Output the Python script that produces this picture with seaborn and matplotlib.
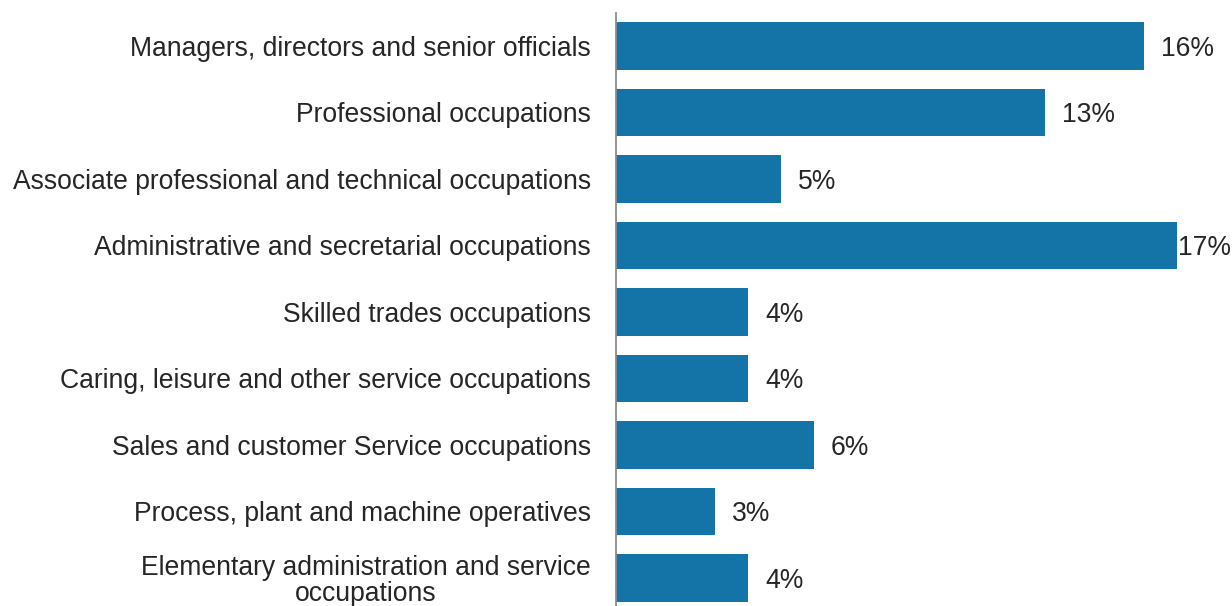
import matplotlib
matplotlib.use("Agg")
import matplotlib.pyplot as plt
import seaborn as sns
import pandas as pd

categories = [
    "Managers, directors and senior officials",
    "Professional occupations",
    "Associate professional and technical occupations",
    "Administrative and secretarial occupations",
    "Skilled trades occupations",
    "Caring, leisure and other service occupations",
    "Sales and customer Service occupations",
    "Process, plant and machine operatives",
    "Elementary administration and service\noccupations",
]
values = [16, 13, 5, 17, 4, 4, 6, 3, 4]

df = pd.DataFrame({"occupation": categories, "share": values})

sns.set_theme(style="white")
plt.rcParams["font.family"] = ["Liberation Sans", "DejaVu Sans"]

W, H, DPI = 1232, 606, 100
fig = plt.figure(figsize=(W / DPI, H / DPI), dpi=DPI)

px_per_unit = 33.0
ax_left_px = 616
ax_top_px = 12.75
ax_bottom_px = 611.25
ax = fig.add_axes([
    ax_left_px / W,
    1 - ax_bottom_px / H,
    (W - ax_left_px) / W,
    (ax_bottom_px - ax_top_px) / H,
])

bar_color = "#1474A8"
sns.barplot(data=df, y="occupation", x="share", orient="h", color=bar_color,
            saturation=1, width=0.71, ax=ax, edgecolor="none")

xmax = (W - ax_left_px) / px_per_unit
ax.set_xlim(0, xmax)
ax.set_ylim(len(categories) - 0.5, -0.5)

for sp in ["top", "right", "bottom"]:
    ax.spines[sp].set_visible(False)
ax.spines["left"].set_color("#8c8c8c")
ax.spines["left"].set_linewidth(1.3)

FS = 19.1
ax.set_xticks([])
ax.set_xlabel("")
ax.set_ylabel("")
ax.tick_params(axis="y", length=0, pad=18, labelsize=FS, labelcolor="#262626")
for lbl in ax.get_yticklabels():
    lbl.set_horizontalalignment("right")
    lbl.set_multialignment("center")
    lbl.set_linespacing(1.0)

label_w = 54 / px_per_unit
for i, v in enumerate(values):
    x = v + 17 / px_per_unit
    if x + label_w > xmax:
        x = v + 1 / px_per_unit
    ax.text(x, i, f"{v}%", va="center_baseline", ha="left", fontsize=FS, color="#262626")

fig.savefig("out.png", dpi=DPI)
